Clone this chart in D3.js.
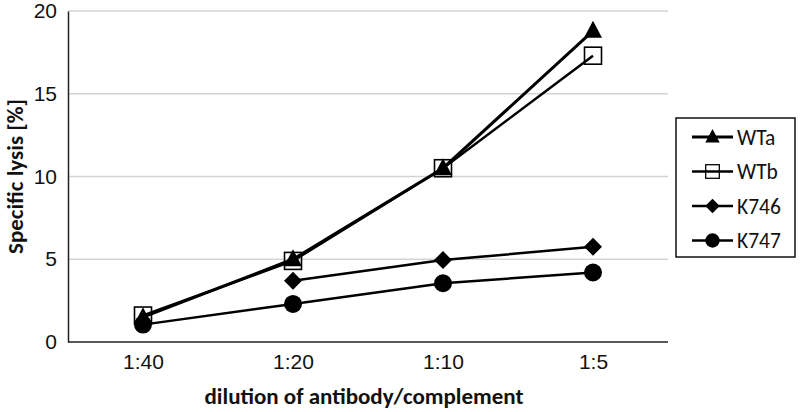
<!doctype html>
<html>
<head>
<meta charset="UTF-8">
<script src="https://d3js.org/d3.v7.min.js"></script>
<style>
  body { margin: 0; background: #fff; }
  svg { display: block; font-family: Carlito, "Open Sans", sans-serif; }
</style>
</head>
<body>
<script>
// chart data
const dilutions = ["1:40", "1:20", "1:10", "1:5"];
const yTicks = [0, 5, 10, 15, 20];
const wtA = [1.5, 5.0, 10.5, 18.8];
const wtB = [1.6, 4.9, 10.5, 17.3];
const k746 = [null, 3.7, 4.95, 5.75];
const k747 = [1.05, 2.3, 3.55, 4.2];
const seriesNames = ["WTa", "WTb", "K746", "K747"];

const series = [
  { name: seriesNames[0], values: wtA, marker: "triangle", lw: 3 },
  { name: seriesNames[1], values: wtB, marker: "square", lw: 2.5 },
  { name: seriesNames[2], values: k746, marker: "diamond", lw: 2.5 },
  { name: seriesNames[3], values: k747, marker: "circle", lw: 2.5 }
];

const W = 800, H = 412;
const margin = { top: 11, left: 68, right: 132, bottom: 70 };

const svg = d3.select("body").append("svg")
  .attr("width", W)
  .attr("height", H);

const x = d3.scalePoint()
  .domain(dilutions)
  .range([margin.left, W - margin.right])
  .padding(0.5);

const y = d3.scaleLinear()
  .domain([0, 20])
  .range([H - margin.bottom, margin.top]);

// gridlines
svg.append("g")
  .selectAll("line")
  .data(yTicks.filter(d => d > 0))
  .enter().append("line")
    .attr("x1", margin.left)
    .attr("x2", W - margin.right)
    .attr("y1", d => y(d))
    .attr("y2", d => y(d))
    .attr("stroke", "#d4d4d4")
    .attr("stroke-width", 1.3);

// axes
let yAxis = svg.append("g")
  .attr("transform", "translate(" + margin.left + ",0)")
  .call(d3.axisLeft(y).tickValues(yTicks).tickSize(0).tickPadding(11));
yAxis.select(".domain").attr("stroke", "#222").attr("stroke-width", 1.5);
yAxis.selectAll("text").attr("font-size", 21).attr("fill", "#111");

let xAxis = svg.append("g")
  .attr("transform", "translate(0," + (H - margin.bottom) + ")")
  .call(d3.axisBottom(x).tickSize(0).tickPadding(12));
xAxis.select(".domain")
  .attr("d", "M" + margin.left + ",0H" + (W - margin.right))
  .attr("stroke", "#222").attr("stroke-width", 1.5);
xAxis.selectAll("text").attr("font-size", 21).attr("fill", "#111");

// axis titles
svg.append("text")
  .attr("x", (margin.left + W - margin.right) / 2 - 4)
  .attr("y", 404)
  .attr("text-anchor", "middle")
  .attr("font-size", 23)
  .attr("font-weight", "bold")
  .attr("fill", "#111")
  .text("dilution of antibody/complement");

svg.append("text")
  .attr("transform", "translate(23," + y(10) + ") rotate(-90)")
  .attr("text-anchor", "middle")
  .attr("font-size", 23)
  .attr("font-weight", "bold")
  .attr("fill", "#111")
  .text("Specific lysis [%]");

function drawMarker(g, type) {
  if (type === "triangle") {
    g.append("path").attr("d", "M0,-10L9,7L-9,7Z").attr("fill", "#000");
  } else if (type === "square") {
    g.append("rect").attr("x", -8.5).attr("y", -8.5).attr("width", 17).attr("height", 17)
      .attr("fill", "none").attr("stroke", "#000").attr("stroke-width", 1.6);
  } else if (type === "diamond") {
    g.append("path").attr("d", "M0,-9L9,0L0,9L-9,0Z").attr("fill", "#000");
  } else {
    g.append("circle").attr("r", 9).attr("fill", "#000");
  }
}

const line = d3.line()
  .defined(d => d.v !== null)
  .x(d => x(d.c))
  .y(d => y(d.v));

series.forEach(function(s) {
  let pts = s.values.map((v, i) => ({ c: dilutions[i], v: v }));
  svg.append("path")
    .datum(pts)
    .attr("d", line)
    .attr("fill", "none")
    .attr("stroke", "#000")
    .attr("stroke-width", s.lw);
  pts.filter(p => p.v !== null).forEach(function(p) {
    drawMarker(svg.append("g").attr("transform", "translate(" + x(p.c) + "," + y(p.v) + ")"), s.marker);
  });
});

// legend
const legend = svg.append("g");
legend.append("rect")
  .attr("x", 676).attr("y", 118)
  .attr("width", 119).attr("height", 139)
  .attr("fill", "#fff")
  .attr("stroke", "#111").attr("stroke-width", 1.5);

series.forEach(function(s, i) {
  let ly = 137 + i * 34.5;
  let row = legend.append("g").attr("transform", "translate(0," + ly + ")");
  row.append("line")
    .attr("x1", 692).attr("x2", 733)
    .attr("stroke", "#000").attr("stroke-width", s.lw);
  let m = row.append("g").attr("transform", "translate(712.5,0) scale(0.8)");
  drawMarker(m, s.marker);
  row.append("text")
    .attr("x", 737).attr("y", 0)
    .attr("dy", "0.35em")
    .attr("font-size", 21.5)
    .attr("fill", "#111")
    .text(s.name);
});
</script>
</body>
</html>
